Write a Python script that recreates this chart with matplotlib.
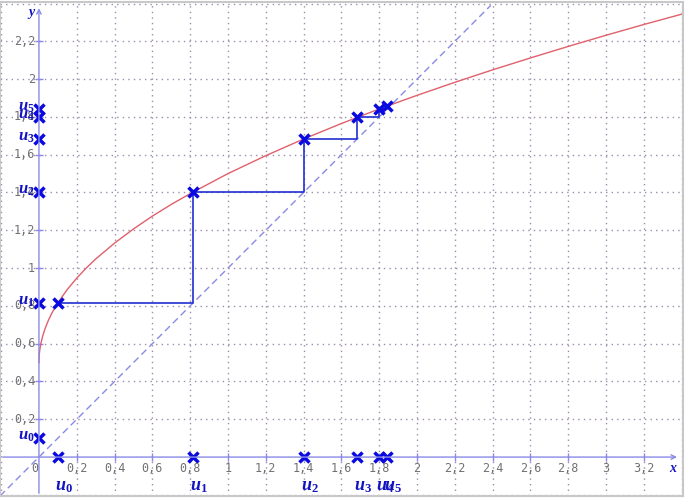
import matplotlib
matplotlib.use("Agg")
import matplotlib.pyplot as plt

plt.rcParams['mathtext.fontset'] = 'custom'
plt.rcParams['mathtext.it'] = 'Liberation Serif:italic:bold'
plt.rcParams['mathtext.rm'] = 'Liberation Serif:bold'
plt.rcParams['mathtext.bf'] = 'Liberation Serif:bold'

# termes de la suite
u = [0.1, 0.816, 1.403, 1.685, 1.798, 1.841, 1.857]
noms = ['$u_0$', '$u_1$', '$u_2$', '$u_3$', '$u_4$', '$u_5$']

# courbe
courbe_x = [0.0, 0.001, 0.003, 0.006, 0.01, 0.02, 0.03, 0.05, 0.07, 0.1, 0.15, 0.2, 0.25,
            0.3, 0.4, 0.5, 0.6, 0.7, 0.8, 1.0, 1.2, 1.4, 1.6, 1.8, 2.0, 2.2, 2.4,
            2.6, 2.8, 3.0, 3.2, 3.42]
courbe_y = [0.5, 0.532, 0.555, 0.577, 0.6, 0.641, 0.673, 0.724, 0.765, 0.816, 0.887, 0.947, 1.0,
            1.048, 1.132, 1.207, 1.275, 1.337, 1.394, 1.5, 1.595, 1.683, 1.765, 1.842, 1.914, 1.983, 2.049,
            2.112, 2.173, 2.232, 2.289, 2.349]

xticks = [0.2, 0.4, 0.6, 0.8, 1, 1.2, 1.4, 1.6, 1.8, 2, 2.2, 2.4, 2.6, 2.8, 3, 3.2]
yticks = [0.2, 0.4, 0.6, 0.8, 1, 1.2, 1.4, 1.6, 1.8, 2, 2.2]

def fmt(v):
    return ('%g' % v).replace('.', ',')

bleu = '#0a0ae0'
bleu_txt = '#1414c0'
axe_col = '#8a8ae6'

fig = plt.figure(figsize=(6.87, 4.99), dpi=100)
ax = fig.add_axes([0.0, 3 / 499, 683 / 687, 494 / 499])
ax.set_xlim(-0.206, 3.407)
ax.set_ylim(-0.206, 2.408)
ax.set_xticks([])
ax.set_yticks([])
for s in ax.spines.values():
    s.set_color('#c8c8c8')
    s.set_linewidth(1.5)

# quadrillage
for gx in [-0.2] + [0.2 * k for k in range(1, 18)]:
    ax.axvline(gx, color='#9c8cab', lw=1, ls=(0, (1, 3)), zorder=0)
for gy in [-0.2] + [0.2 * k for k in range(1, 13)]:
    ax.axhline(gy, color='#9c8cab', lw=1, ls=(0, (1, 3)), zorder=0)

# axes avec fleches
ax.annotate('', xy=(3.39, 0), xytext=(-0.206, 0),
            arrowprops=dict(arrowstyle='->', color=axe_col, lw=1, mutation_scale=8))
ax.annotate('', xy=(0, 2.39), xytext=(0, -0.206),
            arrowprops=dict(arrowstyle='->', color=axe_col, lw=1, mutation_scale=8))
ax.plot(xticks, [0] * len(xticks), '|', color=axe_col, ms=6, mew=1)
ax.plot([0] * len(yticks), yticks, '_', color=axe_col, ms=6, mew=1)

for t in xticks:
    ax.text(t, -0.058, fmt(t), family='DejaVu Sans Mono', fontsize=8.5, color='#707070',
            ha='center', va='center')
ax.text(-0.02, -0.058, '0', family='DejaVu Sans Mono', fontsize=8.5, color='#707070',
        ha='center', va='center')
for t in yticks:
    ax.text(-0.02, t, fmt(t), family='DejaVu Sans Mono', fontsize=8.5, color='#707070',
            ha='right', va='center')

ax.text(3.354, -0.058, 'x', family='Liberation Serif', style='italic', weight='bold',
        fontsize=10, color=bleu_txt, ha='center', va='center')
ax.text(-0.037, 2.354, 'y', family='Liberation Serif', style='italic', weight='bold',
        fontsize=10, color=bleu_txt, ha='center', va='center')

# droite y = x et courbe
ax.plot([-0.206, 2.39], [-0.206, 2.39], color='#8a8ae6', lw=1, ls=(0, (5, 3)))
ax.plot(courbe_x, courbe_y, color='#e0606c', lw=1)

# escalier
px, py = [u[0]], [u[1]]
for k in range(1, len(u) - 1):
    px += [u[k], u[k]]
    py += [u[k], u[k + 1]]
ax.plot(px, py, color='#2030d0', lw=1.2)

n = len(noms)
ax.plot(u[:n], u[1:n + 1], 'x', color=bleu, ms=7, mew=2.5)
ax.plot(u[:n], [0] * n, 'x', color=bleu, ms=7, mew=2.5, clip_on=False)
ax.plot([0] * n, u[:n], 'x', color=bleu, ms=7, mew=2.5, clip_on=False)

for k in range(n):
    ax.text(u[k] + 0.03, -0.155, noms[k], fontsize=13, color=bleu_txt, ha='center', va='center')
    ax.text(-0.022, u[k] + 0.015, noms[k], fontsize=12, color=bleu_txt, ha='right', va='center')

fig.savefig('out.png', dpi=100)
